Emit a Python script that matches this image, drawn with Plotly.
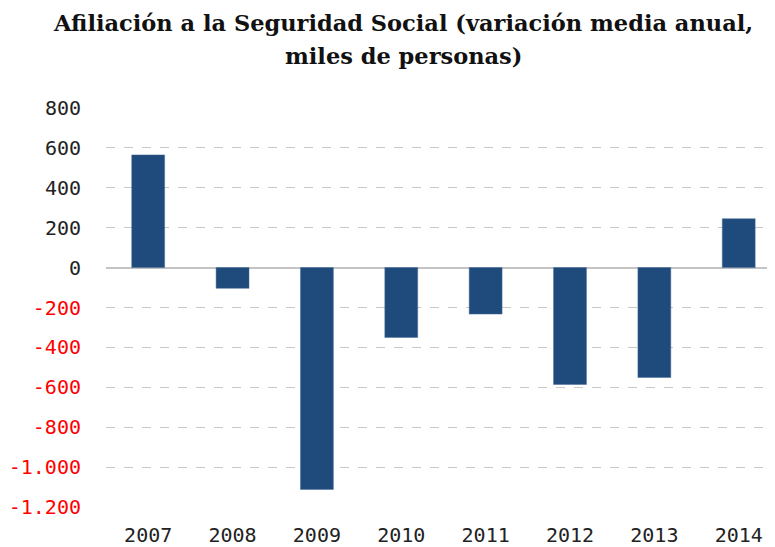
import plotly.graph_objects as go

years = ["2007", "2008", "2009", "2010", "2011", "2012", "2013", "2014"]
values = [565, -104, -1112, -350, -233, -586, -551, 245]

tick_vals = [800, 600, 400, 200, 0, -200, -400, -600, -800, -1000, -1200]
tick_text = ["800", "600", "400", "200", "0", "-200", "-400", "-600", "-800", "-1.000", "-1.200"]
tick_text_colored = [t if v >= 0 else '<span style="color:#ff0000">' + t + '</span>'
                     for v, t in zip(tick_vals, tick_text)]

title_lines = ["Afiliación a la Seguridad Social (variación media anual,",
               "miles de personas)"]
title_ys = [1.2129, 1.1312]

fig = go.Figure(go.Bar(
    x=years, y=values,
    marker=dict(color="#1F4A7C", line=dict(color="#4a6f9c", width=0.5)),
    width=0.39,
))

fig.update_layout(
    width=767, height=539,
    margin=dict(l=98, r=0, t=100, b=35),
    paper_bgcolor="white", plot_bgcolor="white",
    showlegend=False,
    xaxis=dict(
        type="category", range=[-0.5, 7.43],
        showgrid=False, showline=False, ticks="",
        tickfont=dict(family="DejaVu Sans Mono", size=20, color="#222222"),
        ticklabelstandoff=14,
    ),
    yaxis=dict(
        range=[-1200, 800], tickvals=tick_vals, ticktext=tick_text_colored,
        showgrid=True, gridcolor="#c8c8c8", griddash="dash", gridwidth=1,
        zeroline=True, zerolinecolor="#c4c4c4", zerolinewidth=1.5,
        showline=False, ticks="",
        tickfont=dict(family="DejaVu Sans Mono", size=20, color="#222222"),
        ticklabelstandoff=24,
    ),
    annotations=[dict(
        text="<b>" + line + "</b>",
        xref="paper", yref="paper", x=0.444, y=ty,
        xanchor="center", yanchor="middle", showarrow=False,
        font=dict(family="DejaVu Serif", size=22.5, color="#111111"),
    ) for line, ty in zip(title_lines, title_ys)],
)

fig.write_html("out.html")
